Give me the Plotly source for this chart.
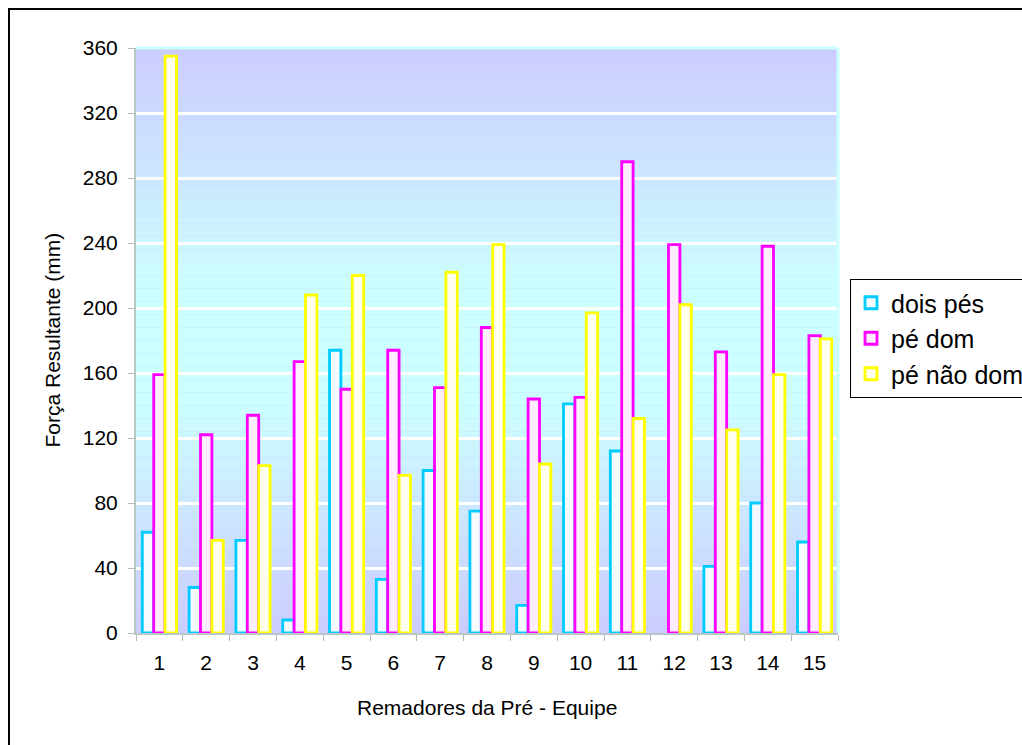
import plotly.graph_objects as go

# Resultant force per rower of the pre-team, three stance conditions
remadores = [str(i) for i in range(1, 16)]
dois_pes = [62, 28, 57, 8, 174, 33, 100, 75, 17, 141, 112, None, 41, 80, 56]
pe_dom = [159, 122, 134, 167, 150, 174, 151, 188, 144, 145, 290, 239, 173, 238, 183]
pe_nao_dom = [355, 57, 103, 208, 220, 97, 222, 239, 104, 197, 132, 202, 125, 159, 181]

y_ticks = list(range(0, 361, 40))

W, H = 1022, 745
L, R, T, B = 136, 184, 48, 112
pw, ph = W - L - R, H - T - B

FONT = "Arial, Liberation Sans, sans-serif"


def px_x(px):
    return (px - L) / pw


def px_y(py):
    return (H - B - py) / ph


series = [
    ("dois pés", dois_pes, "#00CCFF", "rgba(245,250,255,1)"),
    ("pé dom", pe_dom, "#FF00FF", "rgba(255,236,255,1)"),
    ("pé não dom", pe_nao_dom, "#FFFF00", "rgba(255,255,240,1)"),
]

fig = go.Figure()
for name, vals, line_c, fill_c in series:
    fig.add_trace(go.Bar(
        x=remadores, y=vals, name=name, legendgroup=name,
        marker=dict(color=fill_c, line=dict(color=line_c, width=2.8)),
    ))

# vertical lavender -> cyan -> lavender wash behind the bars
lav = (204, 204, 255)
cyan = (204, 255, 255)
mid = 175.0
shapes = []
step = 4
for y0 in range(0, 360, step):
    yc = y0 + step / 2
    if yc <= mid:
        t = yc / mid
    else:
        t = (360 - yc) / (360 - mid)
    t = min(1.0, t * 1.25)
    c = tuple(round(a + (b - a) * t) for a, b in zip(lav, cyan))
    shapes.append(dict(
        type="rect", xref="paper", yref="y", x0=0, x1=1, y0=y0, y1=y0 + step,
        fillcolor="rgb(%d,%d,%d)" % c, line=dict(width=0), layer="below",
    ))

# thin back-wall edge on top and right
shapes.append(dict(type="line", xref="paper", yref="paper", x0=0, x1=1, y0=1, y1=1,
                   line=dict(color="#CCFFFF", width=3)))
shapes.append(dict(type="line", xref="paper", yref="paper", x0=1, x1=1, y0=0, y1=1,
                   line=dict(color="#CCFFFF", width=3)))

# outer chart frame (runs past the right and bottom edges)
shapes.append(dict(
    type="rect", xref="paper", yref="paper",
    x0=px_x(9), x1=px_x(W + 20), y0=px_y(H + 20), y1=px_y(9),
    line=dict(color="black", width=2), fillcolor="rgba(0,0,0,0)", layer="above",
))

fig.update_layout(
    width=W, height=H,
    margin=dict(l=L, r=R, t=T, b=B, pad=0, autoexpand=False),
    paper_bgcolor="white",
    plot_bgcolor="rgb(204,204,255)",
    barmode="group",
    bargap=0.27,
    bargroupgap=0.0,
    font=dict(family=FONT, size=20, color="black"),
    shapes=shapes,
    showlegend=True,
    legend=dict(
        x=px_x(850), y=px_y(279), xanchor="left", yanchor="top",
        bgcolor="white", bordercolor="black", borderwidth=1,
        font=dict(family=FONT, size=25, color="black"),
        tracegroupgap=2, itemwidth=30, traceorder="normal",
    ),
    xaxis=dict(
        type="category", tickson="boundaries", ticks="outside", ticklen=6,
        tickcolor="#B0B8B8", showline=True, linecolor="#B8C8C8", linewidth=2,
        showgrid=False, ticklabelstandoff=10,
        tickfont=dict(family=FONT, size=21),
    ),
    yaxis=dict(
        range=[0, 360], tickvals=y_ticks, ticks="outside", ticklen=6,
        tickcolor="#B0B8B8", showline=True, linecolor="#B8C8C8", linewidth=2,
        showgrid=True, gridcolor="white", gridwidth=3, zeroline=False,
        ticklabelstandoff=6, tickfont=dict(family=FONT, size=21),
    ),
    annotations=[
        dict(text="Força Resultante (mm)", xref="paper", yref="paper",
             x=px_x(52), y=0.5, xanchor="center", yanchor="middle",
             textangle=-90, showarrow=False, font=dict(family=FONT, size=21)),
        dict(text="Remadores da Pré - Equipe", xref="paper", yref="paper",
             x=0.5, y=px_y(707), xanchor="center", yanchor="middle",
             showarrow=False, font=dict(family=FONT, size=21)),
    ],
)

fig.write_html("out.html")
